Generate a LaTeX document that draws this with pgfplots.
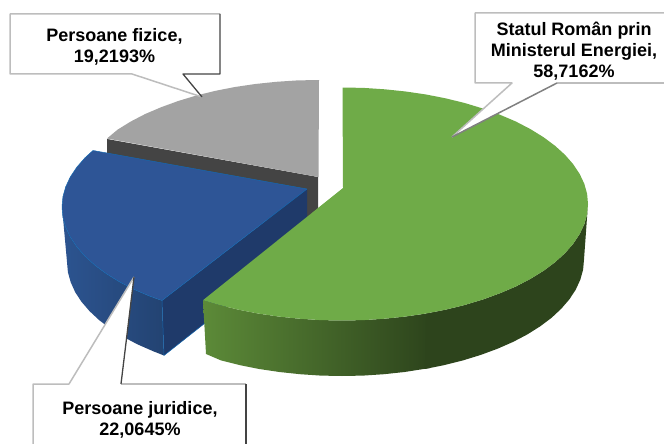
\documentclass[border=0pt]{standalone}
\usepackage{pgfplots}
\pgfplotsset{compat=1.18}
\usepackage{fontspec}
\setmainfont{Liberation Sans}
\definecolor{gtop}{HTML}{6FAB48}
\definecolor{gsideL}{HTML}{5C8A38}
\definecolor{gsideR}{HTML}{2D441C}
\definecolor{btop}{HTML}{2E5596}
\definecolor{bedge}{HTML}{1468B0}
\definecolor{bsideL}{HTML}{2C5490}
\definecolor{bsideR}{HTML}{234372}
\definecolor{binner}{HTML}{1F3A6A}
\definecolor{grtop}{HTML}{A3A3A3}
\definecolor{grside}{HTML}{444444}
\definecolor{cl}{HTML}{BDBDBD}
\definecolor{cd}{HTML}{444444}
\begin{document}
\begin{tikzpicture}[x=1pt,y=1pt]
\begin{axis}[
  at={(0pt,0pt)},anchor=south west,
  width=664pt,height=444pt,scale only axis,
  xmin=0,xmax=664,ymin=0,ymax=444,y dir=reverse,
  hide axis,clip=true,no markers,
  /tikz/line join=round]
% grey slice
\addplot[draw=none,fill=grside] coordinates {(107,139)(318,177)(318,240)(107,160)} --cycle;
\addplot[draw=none,fill=grtop] coordinates {(319,80)(297.5,80.4)(276.3,81.8)(255.3,84)(234.9,87)(215,90.9)(196,95.6)(177.9,101.1)(160.9,107.3)(145,114.1)(130.6,121.6)(117.5,129.7)(107,138.5)(318.5,177)} --cycle;
% blue slice
\addplot[draw=none,fill=binner] coordinates {(307,189)(307,243)(164,355.5)(162,300.5)} --cycle;
\addplot[draw=none,left color=bsideL,right color=bsideR] coordinates {(62,207)(62.9,217.2)(65.7,227.2)(70.4,237.2)(76.8,246.8)(85,256.2)(95,265.25)(106.5,273.8)(119.6,281.9)(134.1,289.4)(149.9,296.2)(162,300.5)(164,355.5)(153.1,351.2)(137.6,344.4)(123.4,336.9)(110.6,328.8)(99.3,320.25)(89.6,311.2)(81.5,301.8)(75.2,292.2)(70.7,282.2)(67.9,272.2)(67,262)} --cycle;
\addplot[bedge,line width=0.5pt,fill=btop] coordinates {(93,150.5)(85,157.8)(76.8,167.2)(70.4,176.8)(65.7,186.8)(62.9,196.8)(62,207)(62.9,217.2)(65.7,227.2)(70.4,237.2)(76.8,246.8)(85,256.2)(95,265.25)(106.5,273.8)(119.6,281.9)(134.1,289.4)(149.9,296.2)(162,300.5)(307,189)} --cycle;
\addplot[bedge,line width=0.5pt] coordinates {(162,300.5)(164,355.5)(205,323)};
% green slice
\addplot[draw=none,left color=gsideL,right color=gsideR] coordinates {(430,313)(405.7,316.5)(384.7,318.7)(363.5,320.1)(342,320.5)(320.5,320.1)(299.3,318.7)(278.3,316.5)(257.9,313.5)(238,309.6)(219,304.9)(203,300.2)(206,354)(221,360.4)(239.7,365.1)(259.2,369)(279.4,372)(300,374.2)(320.9,375.6)(342,376)(363.1,375.6)(384,374.2)(404.6,372)(430,368)} --cycle;
\addplot[draw=none,fill=gsideR] coordinates {(588,204)(587.1,214.2)(584.3,224.2)(579.6,234.2)(573.2,243.8)(565,253.2)(555,262.25)(543.5,270.8)(530.4,278.9)(516,286.4)(500.1,293.2)(483.1,299.4)(465,304.9)(446,309.6)(426.1,313.5)(424.8,369)(444.3,365.1)(463,360.4)(480.8,354.9)(497.6,348.7)(513.1,341.9)(527.4,334.4)(540.2,326.3)(551.6,317.75)(561.3,308.7)(569.4,299.3)(575.7,289.7)(580.3,279.7)(583.1,269.7)(584,259.5)} --cycle;
\addplot[draw=none,fill=gtop] coordinates {(342.5,87.5)(363.5,87.9)(384.7,89.3)(405.7,91.5)(426.1,94.5)(446,98.4)(465,103.1)(483.1,108.6)(500.1,114.8)(516,121.6)(530.4,129.1)(543.5,137.2)(555,145.75)(565,154.8)(573.2,164.2)(579.6,173.8)(584.3,183.8)(587.1,193.8)(588,204)(587.1,214.2)(584.3,224.2)(579.6,234.2)(573.2,243.8)(565,253.2)(555,262.25)(543.5,270.8)(530.4,278.9)(516,286.4)(500.1,293.2)(483.1,299.4)(465,304.9)(446,309.6)(426.1,313.5)(405.7,316.5)(384.7,318.7)(363.5,320.1)(342,320.5)(320.5,320.1)(299.3,318.7)(278.3,316.5)(257.9,313.5)(238,309.6)(219,304.9)(203,300.2)(343,188)} --cycle;
% callouts: white fill, light top/left, dark right/bottom
\addplot[draw=none,fill=white] coordinates {(10,14)(220,14)(220,74)(183,74)(202,97)(132,74)(10,74)} --cycle;
\addplot[cl,line width=1.5pt] coordinates {(220,14)(10,14)(10,74)(132,74)(202,97)};
\addplot[cd,line width=1.3pt] coordinates {(220,14)(220,74)(183,74)(202,97)};
\addplot[draw=none,fill=white] coordinates {(475,13)(670,13)(670,83)(557,83)(452,137)(512,83)(475,83)} --cycle;
\addplot[cl,line width=1.5pt] coordinates {(670,13)(475,13)(475,83)(512,83)(452,137)};
\addplot[cl,line width=1.5pt] coordinates {(670,83)(557,83)};
\addplot[gray,line width=1.5pt] coordinates {(557,83)(452,137)};
\addplot[draw=none,fill=white] coordinates {(33,384)(69,384)(134,277)(121,384)(246,384)(246,450)(33,450)} --cycle;
\addplot[cl,line width=1.5pt] coordinates {(33,450)(33,384)(69,384)(134,277)};
\addplot[cl,line width=1.5pt] coordinates {(121,384)(246,384)};
\addplot[cd,line width=1.3pt] coordinates {(134,277)(121,384)};
\addplot[cd,line width=1.3pt] coordinates {(246,384)(246,450)};
% labels
\tikzset{lab/.style={font=\fontsize{18}{21}\selectfont\bfseries,align=center,text=black,inner sep=0pt,anchor=center}}
\node[lab] at (axis cs:114.5,47) {Persoane fizice,\\19,2193\%};
\node[lab] at (axis cs:574,51) {Statul Român prin\\Ministerul Energiei,\\58,7162\%};
\node[lab] at (axis cs:140,420) {Persoane juridice,\\22,0645\%};
\end{axis}
\pgfresetboundingbox
\path[use as bounding box] (0pt,0pt) rectangle (664pt,444pt);
\end{tikzpicture}
\end{document}
